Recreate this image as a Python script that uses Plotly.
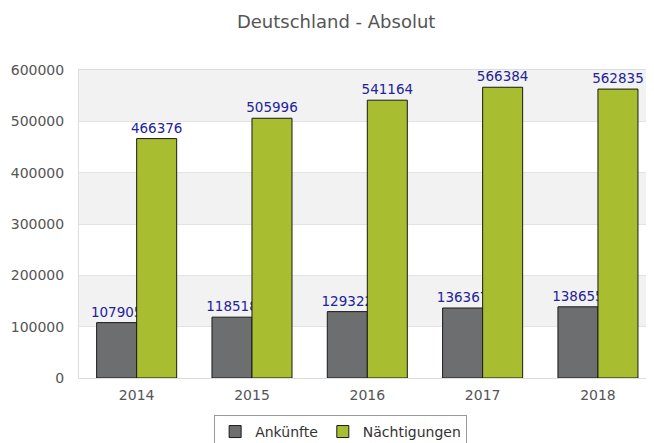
import plotly.graph_objects as go

years = ["2014", "2015", "2016", "2017", "2018"]
ankuenfte = [107905, 118518, 129322, 136367, 138655]
naechtigungen = [466376, 505996, 541164, 566384, 562835]
y_ticks = [0, 100000, 200000, 300000, 400000, 500000, 600000]

font = "DejaVu Sans, sans-serif"
label_color = "#22229b"
text_grey = "#555555"

fig = go.Figure()
fig.add_trace(go.Bar(
    x=years, y=ankuenfte, name="Ankünfte",
    marker=dict(color="#6d6e70", line=dict(color="#1a1a1a", width=1)),
    text=[str(v) for v in ankuenfte], textposition="outside",
    textfont=dict(color=label_color, size=13.5, family=font),
    cliponaxis=True, constraintext="none",
))
fig.add_trace(go.Bar(
    x=years, y=naechtigungen, name="Nächtigungen",
    marker=dict(color="#a8bd2f", line=dict(color="#1a1a1a", width=1)),
    text=[str(v) for v in naechtigungen], textposition="outside",
    textfont=dict(color=label_color, size=13.5, family=font),
    cliponaxis=True, constraintext="none",
))

shapes = []
for i in range(len(y_ticks) - 1):
    if i % 2 == 1:
        shapes.append(dict(type="rect", xref="paper", yref="y", x0=0, x1=1,
                           y0=y_ticks[i], y1=y_ticks[i + 1],
                           fillcolor="#f2f2f2", line=dict(width=0), layer="below"))

# page body has an 8px default margin, so figure is sized/offset to compensate
fig.update_layout(
    width=646, height=435,
    margin=dict(l=71, r=0, t=62, b=65, autoexpand=False),
    paper_bgcolor="white", plot_bgcolor="white",
    font=dict(family=font, size=14, color=text_grey),
    title=dict(text="Deutschland - Absolut", xref="container", x=0.508, xanchor="center",
               y=0.968, yanchor="middle",
               font=dict(size=18, color=text_grey, family=font)),
    barmode="group", bargap=0.306, bargroupgap=0,
    shapes=shapes,
    showlegend=True,
    legend=dict(orientation="h", x=0.455, xanchor="center", y=-0.12, yanchor="top",
                bordercolor="#999999", borderwidth=1, bgcolor="white",
                font=dict(size=14, color="#333333", family=font),
                traceorder="normal"),
)
fig.update_xaxes(type="category", range=[-0.5, 4.486], showgrid=False, automargin=False,
                 showline=True, linecolor="#dddddd", mirror=True,
                 ticks="", tickfont=dict(size=14, color=text_grey), ticklabelstandoff=4)
fig.update_yaxes(range=[0, 600000], tickvals=y_ticks, ticktext=[str(v) for v in y_ticks],
                 showgrid=True, gridcolor="#e3e3e3", zeroline=False, automargin=False,
                 showline=True, linecolor="#dddddd", mirror=False,
                 ticks="", tickfont=dict(size=14, color=text_grey), ticklabelstandoff=11)

fig.write_html("out.html")
